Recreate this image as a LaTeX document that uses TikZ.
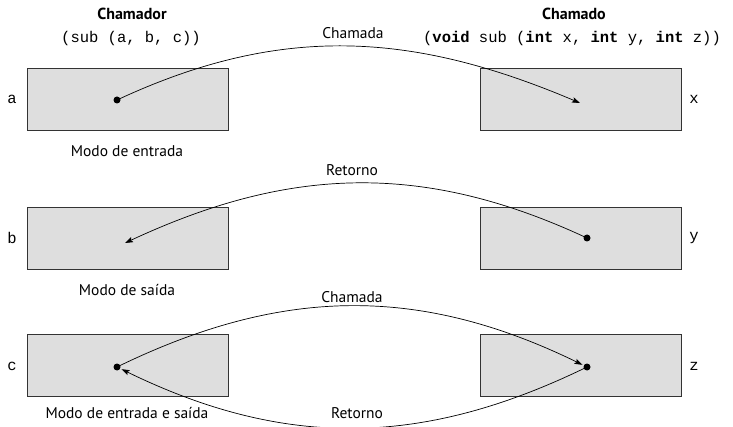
\documentclass[tikz,border=0pt]{standalone}
\usepackage{fontspec}
\setmainfont{PT Sans}
\setmonofont{Liberation Mono}
\usetikzlibrary{arrows.meta}
\tikzset{>={Stealth[length=8pt,width=5.5pt,inset=1.5pt]}}

\begin{document}
\begin{tikzpicture}[x=1pt,y=-1pt,
    parbox/.style={draw=black!80,fill=black!13,line width=0.8pt,minimum width=201pt,minimum height=62pt,inner sep=0pt},
    dot/.style={circle,fill=black,inner sep=0pt,minimum size=7pt,outer sep=1.5pt},
    txt/.style={font=\fontsize{15.5}{18}\selectfont},
    head/.style={font=\fontsize{16}{18}\selectfont\bfseries},
    code/.style={font=\fontsize{15.5}{18}\selectfont\ttfamily},
    flow/.style={->,line width=0.7pt}]
\useasboundingbox (0,0) rectangle (733,427);
\def\xl {127.5}
\def\xr {581}
    % headers
    \node[head] (chamador) at (132,14) {Chamador};
    \node[code] (callsub) at (131,38) {(sub (a, b, c))};
    \node[head] (chamado) at (574,14) {Chamado};
    \node[code] (defsub) at (572,38) {(\textbf{void} sub (\textbf{int} x, \textbf{int} y, \textbf{int} z))};
    % boxes
    \node[parbox] (boxa) at (\xl,99) {};
    \node[parbox] (boxx) at (\xr,99) {};
    \node[parbox] (boxb) at (\xl,238) {};
    \node[parbox] (boxy) at (\xr,238) {};
    \node[parbox] (boxc) at (\xl,365) {};
    \node[parbox] (boxz) at (\xr,365) {};
    % names
    \node[code] (na) at (12,99) {a};
    \node[code] (nx) at (694,99) {x};
    \node[code] (nb) at (12,238) {b};
    \node[code] (ny) at (694,238) {y};
    \node[code] (nc) at (12,366) {c};
    \node[code] (nz) at (694,366) {z};
    % modes
    \node[txt] (modein) at (127,151) {Modo de entrada};
    \node[txt] (modeout) at (127,290) {Modo de saída};
    \node[txt] (modeinout) at (127,413) {Modo de entrada e saída};
    % dots and free ends
    \node[dot] (da) at (117,100) {};
    \coordinate (tx) at (580,103);
    \node[dot] (dy) at (587,238) {};
    \coordinate (tb) at (125,243);
    \node[dot] (dc) at (117,367) {};
    \node[dot] (dz) at (587,367) {};
    % arrows
    \draw[flow] (da.center) to[out=25,in=157] (tx);
    \node[txt] (call1) at (353,33) {Chamada};
    \draw[flow] (dy.center) to[out=155,in=25] (tb);
    \node[txt] (ret2) at (352,170) {Retorno};
    \draw[flow] (dc.center) to[out=26,in=154] (dz);
    \node[txt] (call3) at (352,297) {Chamada};
    \draw[flow] (dz.center) to[out=206,in=-26] (dc);
    \node[txt] (ret3) at (357,413) {Retorno};
\end{tikzpicture}
\end{document}
